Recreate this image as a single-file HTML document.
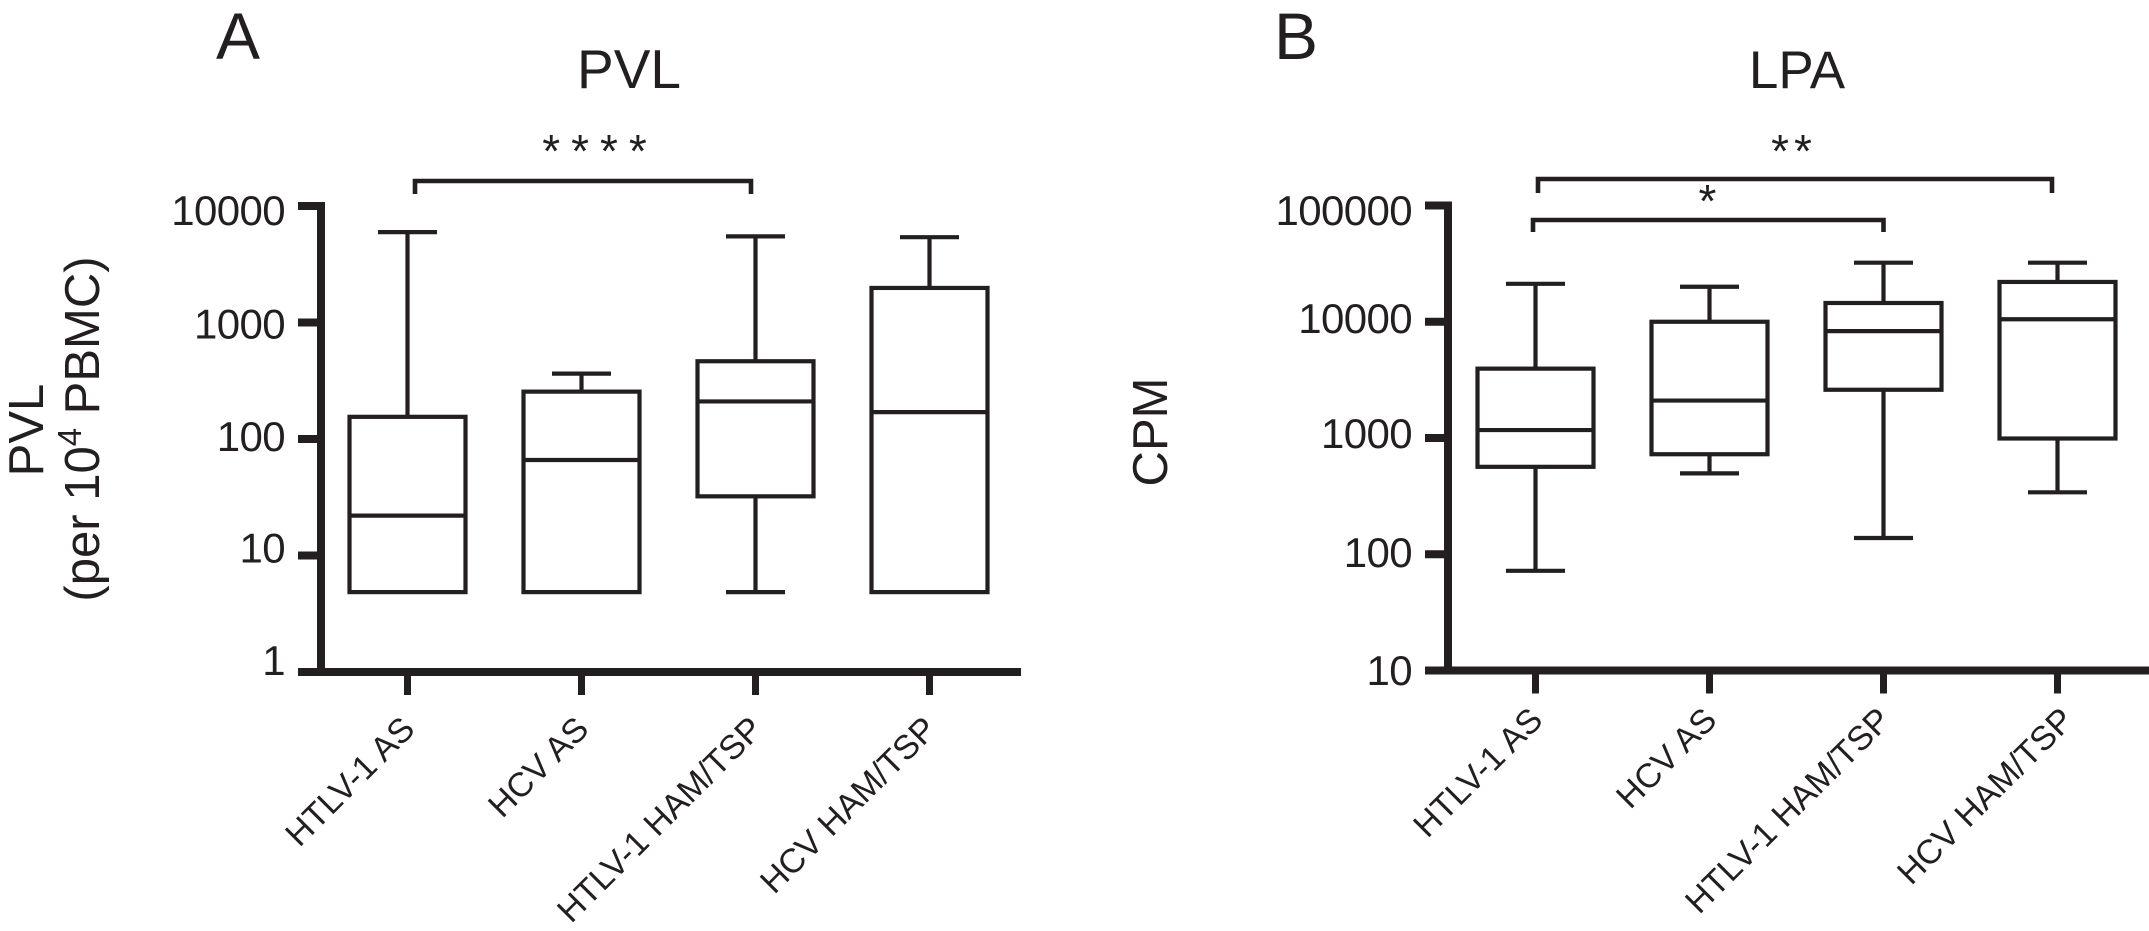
<!DOCTYPE html>
<html lang="en">
<head>
<meta charset="utf-8">
<title>PVL and LPA box plots</title>
<style>
html,body{margin:0;padding:0;background:#fff;width:2149px;height:931px;overflow:hidden}
svg{display:block;font-family:"Liberation Sans",Arial,sans-serif}
text{fill:#231f20}
</style>
</head>
<body>
<svg id="figure" xmlns="http://www.w3.org/2000/svg" width="2149" height="931" viewBox="0 0 2149 931">
  <rect width="2149" height="931" fill="#fff"/>
  <text x="216" y="59" font-size="66">A</text>
  <text x="1274" y="59" font-size="66">B</text>
  <text x="629" y="88" font-size="55" text-anchor="middle">PVL</text>
  <text x="1797" y="88" font-size="53" text-anchor="middle">LPA</text>
  <text transform="translate(43,430) rotate(-90)" font-size="49" text-anchor="middle">PVL</text>
  <text transform="translate(99,429) rotate(-90)" font-size="49" text-anchor="middle">(per 10<tspan font-size="33" dy="-18">4</tspan><tspan dy="18"> PBMC)</tspan></text>
  <text transform="translate(1167,432) rotate(-90)" font-size="49" text-anchor="middle">CPM</text>
  <g id="panelA"></g>
  <g id="panelB"></g>
</svg>
<script>
const categories = ['HTLV-1 AS', 'HCV AS', 'HTLV-1 HAM/TSP', 'HCV HAM/TSP'];

const pvlTicks = [1, 10, 100, 1000, 10000];
const pvlWhiskerHigh = [5970, 364, 5490, 5400];
const pvlQ3 = [155, 255, 465, 1980];
const pvlMedian = [22, 66, 210, 170];
const pvlQ1 = [4.85, 4.85, 32.2, 4.85];
const pvlWhiskerLow = [4.85, 4.85, 4.85, 4.85];

const lpaTicks = [10, 100, 1000, 10000, 100000];
const lpaWhiskerHigh = [21200, 20000, 32200, 32200];
const lpaQ3 = [3950, 10000, 14500, 22000];
const lpaMedian = [1170, 2100, 8300, 10500];
const lpaQ1 = [565, 725, 2600, 990];
const lpaWhiskerLow = [72, 496, 138, 341];

const NS = 'http://www.w3.org/2000/svg';
const INK = '#231f20';

function logScale(d0, d1, r0, r1) {
  return function (v) {
    return r0 + (Math.log10(v) - Math.log10(d0)) / (Math.log10(d1) - Math.log10(d0)) * (r1 - r0);
  };
}

function make(parent, tag, attrs, text) {
  const el = document.createElementNS(NS, tag);
  for (const k in attrs) el.setAttribute(k, attrs[k]);
  if (text !== undefined) el.textContent = text;
  parent.appendChild(el);
  return el;
}

function seg(parent, x1, y1, x2, y2, w) {
  return make(parent, 'line', { x1: x1, y1: y1, x2: x2, y2: y2, stroke: INK, 'stroke-width': w });
}

function drawPanel(cfg) {
  const g = document.getElementById(cfg.id);
  const y = logScale(cfg.ticks[0], cfg.ticks[cfg.ticks.length - 1], cfg.yBottom, cfg.yTop);
  const labelY = logScale(cfg.ticks[0], cfg.ticks[cfg.ticks.length - 1], cfg.labelBottom, cfg.labelTop);
  const x = function (i) { return cfg.x0 + i * 174; };

  const yAxis = seg(g, cfg.axisX, cfg.yTop - 4, cfg.axisX, cfg.yBottom + 4, 8);
  
  
  const xAxis = seg(g, cfg.axisX - 23, cfg.yBottom, cfg.xEnd, cfg.yBottom, 8);
  
  

  cfg.ticks.forEach(function (t, k) {
    const tick = seg(g, cfg.axisX - 23, y(t), cfg.axisX, y(t), 8);
    
    
    const label = make(g, 'text', {
      x: cfg.axisX - 36, y: labelY(t) + cfg.labelNudge[k], 'font-size': 42, 'text-anchor': 'end', 'letter-spacing': -0.6
    }, String(t));
    
    
  });

  categories.forEach(function (name, i) {
    const cx = x(i);
    const tick = seg(g, cx, cfg.yBottom, cx, cfg.yBottom + 23, 7);
    
    
    const label = make(g, 'text', {
      transform: 'translate(' + (cx + cfg.labelDx[i]) + ',' + cfg.labelBase + ') rotate(-45)',
      'font-size': 34, 'text-anchor': 'end'
    }, name);
    
    

    const box = make(g, 'g', {});
    
    
    const hi = y(cfg.high[i]), q3 = y(cfg.q3[i]), med = y(cfg.med[i]), q1 = y(cfg.q1[i]), lo = y(cfg.low[i]);
    if (Math.abs(hi - q3) > 0.5) {
      seg(box, cx, hi, cx, q3, 4.2);
      seg(box, cx - 29.5, hi, cx + 29.5, hi, 4.2);
    }
    if (Math.abs(lo - q1) > 0.5) {
      seg(box, cx, q1, cx, lo, 4.2);
      seg(box, cx - 29.5, lo, cx + 29.5, lo, 4.2);
    }
    make(box, 'rect', {
      x: cx - 58, y: q3, width: 116, height: q1 - q3, fill: '#fff', stroke: INK, 'stroke-width': 4.2
    });
    seg(box, cx - 58, med, cx + 58, med, 4.2);
  });

  cfg.brackets.forEach(function (b) {
    const br = make(g, 'path', {
      d: 'M' + b.x1 + ' ' + (b.y + b.drop) + 'V' + b.y + 'H' + b.x2 + 'V' + (b.y + b.drop),
      fill: 'none', stroke: INK, 'stroke-width': 4.6
    });
    
    
    const star = make(g, 'text', {
      x: b.sx, y: b.sy, 'font-size': 46, 'text-anchor': 'middle', 'letter-spacing': b.ls
    }, b.stars);
    
    
  });
}

drawPanel({
  id: 'panelA', ticks: pvlTicks, yTop: 206, yBottom: 672, labelTop: 225, labelBottom: 675,
  labelNudge: [0, 0, 1, 1, 0],
  axisX: 321, xEnd: 1021, x0: 407.5, labelDx: [9, 9, 9, 9], labelBase: 731,
  high: pvlWhiskerHigh, q3: pvlQ3, med: pvlMedian, q1: pvlQ1, low: pvlWhiskerLow,
  brackets: [{ x1: 415, x2: 751, y: 181, drop: 13, sx: 600, sy: 167, stars: '****', ls: 11 }]
});

drawPanel({
  id: 'panelB', ticks: lpaTicks, yTop: 205.5, yBottom: 670.5, labelTop: 225, labelBottom: 685,
  labelNudge: [0, -3, -7, -7, 0],
  axisX: 1448, xEnd: 2149, x0: 1535.5, labelDx: [9, 9, 9, 18], labelBase: 722,
  high: lpaWhiskerHigh, q3: lpaQ3, med: lpaMedian, q1: lpaQ1, low: lpaWhiskerLow,
  brackets: [
    { x1: 1538, x2: 2052, y: 179, drop: 14, sx: 1794, sy: 167, stars: '**', ls: 5 },
    { x1: 1533, x2: 1883.5, y: 220, drop: 12, sx: 1707.5, sy: 217, stars: '*', ls: 0 }
  ]
});
</script>
</body>
</html>
